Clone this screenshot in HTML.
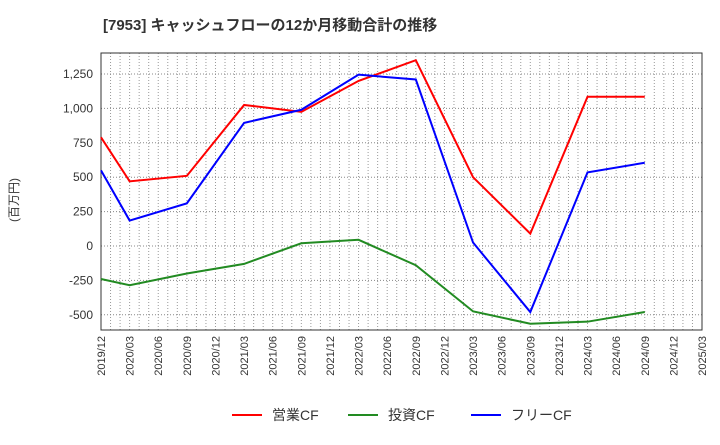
<!DOCTYPE html>
<html><head><meta charset="utf-8"><style>
body{margin:0;background:#fff;font-family:"Liberation Sans","Noto Sans CJK JP",sans-serif;}
</style></head><body>
<svg id="c" width="720" height="440" xmlns="http://www.w3.org/2000/svg">
<text x="103" y="30" font-size="15" font-weight="bold" fill="#333">[7953]  キャッシュフローの12か月移動合計の推移</text>
<text x="18" y="200" font-size="12" fill="#333" transform="rotate(-90 18 200)" text-anchor="middle">(百万円)</text>
<g id="grid"></g><g id="axes"></g><g id="series"></g><g id="legend"></g>
</svg>
<script>
const xLabels=["2019/12","2020/03","2020/06","2020/09","2020/12","2021/03","2021/06","2021/09","2021/12","2022/03","2022/06","2022/09","2022/12","2023/03","2023/06","2023/09","2023/12","2024/03","2024/06","2024/09","2024/12","2025/03"];
const yTicks=[-500,-250,0,250,500,750,1000,1250];
const pointIdx=[0,1,3,5,7,9,11,13,15,17,19];
const opCF=[790,470,510,1025,975,1200,1350,500,90,1085,1085];
const invCF=[-240,-285,-200,-130,20,45,-140,-475,-565,-550,-480];
const freeCF=[550,185,310,895,990,1245,1210,25,-480,535,605];
const seriesNames=["営業CF","投資CF","フリーCF"];
const NS="http://www.w3.org/2000/svg";
const L=101,R=702,T=53,B=330;
const xs=i=>L+(R-L)*i/21;
const ys=v=>246-v*(34.4/250);
function mk(tag,attrs,parent){const e=document.createElementNS(NS,tag);for(const k in attrs)e.setAttribute(k,attrs[k]);parent.appendChild(e);return e;}
const grid=document.getElementById('grid'),axes=document.getElementById('axes'),ser=document.getElementById('series'),leg=document.getElementById('legend');
for(let m=1;m<63;m++){const x=L+(R-L)*m/63;const g=mk('line',{x1:x,x2:x,y1:T,y2:B,stroke:'#999','stroke-dasharray':'1,2','stroke-width':1},grid);

}
yTicks.forEach(v=>{const y=ys(v);const g=mk('line',{x1:L,x2:R,y1:y,y2:y,stroke:'#888','stroke-dasharray':'1,2','stroke-width':1},grid);


const t=mk('text',{x:L-8,y:y+4,'text-anchor':'end','font-size':12,fill:'#333'},axes);t.textContent=v.toLocaleString('en-US');

});
const fr=mk('rect',{x:L,y:T,width:R-L,height:B-T,fill:'none',stroke:'#333','stroke-width':1},axes);


xLabels.forEach((s,i)=>{const x=xs(i);const t=mk('text',{x:x+4,y:B+6,'text-anchor':'end','font-size':11,fill:'#333',transform:`rotate(-90 ${x+4} ${B+6})`},axes);t.textContent=s;

});
const colors=["#ff0000","#228b22","#0000ff"];
[opCF,invCF,freeCF].forEach((d,k)=>{const pts=d.map((v,i)=>xs(pointIdx[i])+','+ys(v)).join(' ');
const p=mk('polyline',{points:pts,fill:'none',stroke:colors[k],'stroke-width':2},ser);


const lx=[232,348,471][k];
const ll=mk('line',{x1:lx,x2:lx+30,y1:415,y2:415,stroke:colors[k],'stroke-width':2},leg);


const lt=mk('text',{x:lx+40,y:420,'font-size':14,fill:'#333'},leg);lt.textContent=seriesNames[k];

});
</script>
</body></html>
